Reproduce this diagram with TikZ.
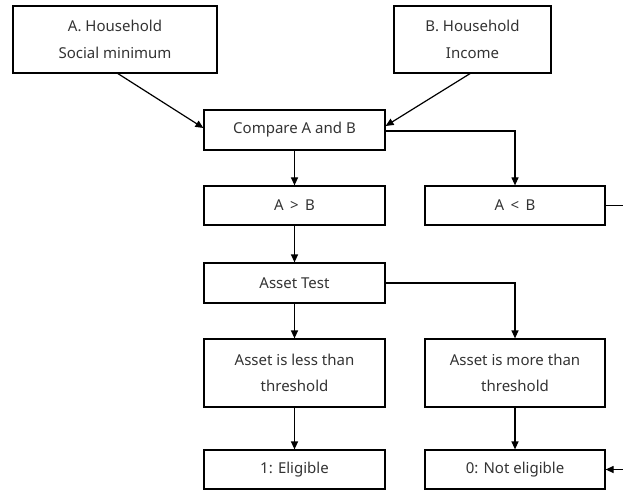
\documentclass[tikz,border=0pt]{standalone}
\usepackage{fontspec}
\setmainfont{Noto Sans}
\usetikzlibrary{arrows.meta}
\begin{document}
\begin{tikzpicture}[x=1bp,y=-1bp,
  box/.style={draw, line width=1.2bp, inner sep=0pt, align=center, text=black!80,
    font=\fontsize{15bp}{27bp}\selectfont},
  conn/.style={line width=1.2bp, -{Triangle[length=8bp,width=7bp]}},
  plain/.style={line width=1.2bp}]
\useasboundingbox (0,0) rectangle (623,490);
\node[box, minimum width=204bp, minimum height=67bp] (A) at (115,39.5) {A. Household\\Social minimum};
\node[box, minimum width=157bp, minimum height=67bp] (B) at (472.5,39.5) {B. Household\\Income};
\node[box, minimum width=181bp, minimum height=40bp] (C) at (294.5,130) {Compare A and B};
\node[box, minimum width=181bp, minimum height=39bp] (G) at (294.5,205.5) {A \,\textgreater\, B};
\node[box, minimum width=180bp, minimum height=39bp] (L) at (515,205.5) {A \,\textless\, B};
\node[box, minimum width=181bp, minimum height=40bp] (T) at (294.5,283) {Asset Test};
\node[box, minimum width=181bp, minimum height=68bp, font=\fontsize{15bp}{26bp}\selectfont] (S) at (294.5,373) {Asset is less than\\threshold};
\node[box, minimum width=180bp, minimum height=68bp, font=\fontsize{15bp}{26bp}\selectfont] (M) at (515,373) {Asset is more than\\threshold};
\node[box, minimum width=181bp, minimum height=39bp] (E) at (294.5,469.5) {1: Eligible};
\node[box, minimum width=180bp, minimum height=39bp] (N) at (515,469.5) {0: Not eligible};
\coordinate (a1) at (117,73);
\coordinate (b1) at (471,73);
\coordinate (r1) at (635,205.5);
\coordinate (r2) at (635,469.5);
\draw[conn] (a1) -- (C.west |- 0,128);
\draw[conn] (b1) -- (C.east |- 0,126);
\draw[conn] (C.east |- 0,131) -| (L.north);
\draw[conn] (C.south) -- (G.north);
\draw[conn] (G.south) -- (T.north);
\draw[conn] (T.east) -| (M.north);
\draw[conn] (T.south) -- (S.north);
\draw[conn] (S.south) -- (E.north);
\draw[conn] (M.south) -- (N.north);
\draw[plain] (L.east) -- (r1) -- (r2);
\draw[conn] (r2) -- (N.east);
\end{tikzpicture}
\end{document}
